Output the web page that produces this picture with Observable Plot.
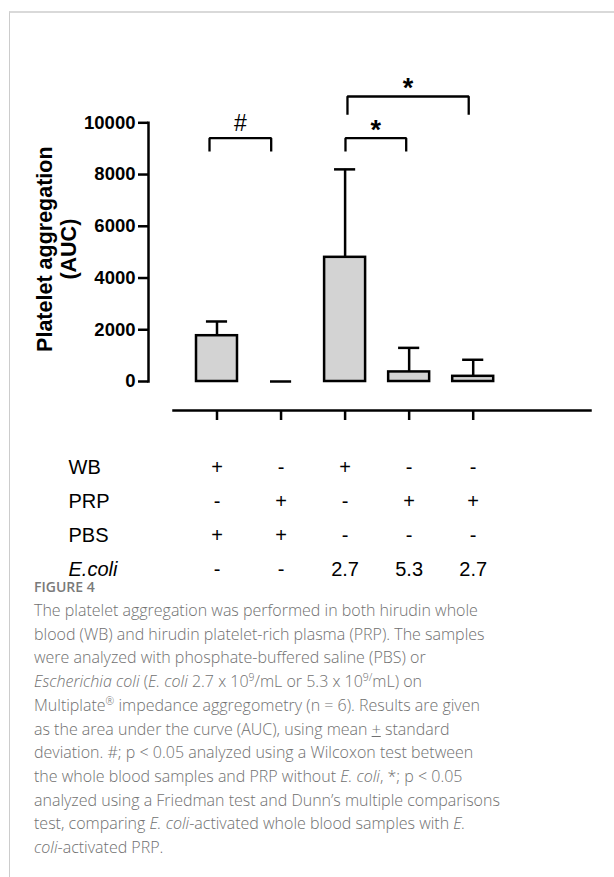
<!DOCTYPE html>
<html>
<head>
<meta charset="utf-8">
<script src="https://cdn.jsdelivr.net/npm/d3@7"></script>
<script src="https://cdn.jsdelivr.net/npm/@observablehq/plot@0.6"></script>
<style>
  html, body { margin: 0; padding: 0; background: #fff; }
  body { width: 614px; height: 877px; position: relative; overflow: hidden; }
  #frame { position: absolute; left: 9px; top: 11px; right: 0; bottom: 0;
           border-top: 2px solid #d9d9d9; border-left: 1.5px solid #cccccc; }
  #chart { position: absolute; left: 0; top: 0; }
  #table { position: absolute; left: 0; top: 440px; }
  #cap { position: absolute; left: 34px; top: 577px; width: 575px;
         font-family: "Open Sans", sans-serif; color: #707070; }
  #cap .fig { font-size: 14px; font-weight: 600; color: #7a7a7a; line-height: 20px; height: 20px; }
  #cap .body { font-size: 16px; font-weight: 300; line-height: 23.7px; white-space: nowrap; margin-top: 2px; }
  #cap sup { font-size: 0.65em; line-height: 0; vertical-align: 0.6em; }
</style>
</head>
<body>
<div id="frame"></div>
<div id="chart"></div>
<div id="table"></div>
<div id="cap">
  <div class="fig">FIGURE 4</div>
  <div class="body">The platelet aggregation was performed in both hirudin whole<br>blood (WB) and hirudin platelet-rich plasma (PRP). The samples<br>were analyzed with phosphate-buffered saline (PBS) or<br><i>Escherichia coli</i> (<i>E. coli</i> 2.7 x 10<sup>9</sup>/mL or 5.3 x 10<sup>9/</sup>mL) on<br>Multiplate<sup>®</sup> impedance aggregometry (n = 6). Results are given<br>as the area under the curve (AUC), using mean <u>+</u> standard<br>deviation. #; p &lt; 0.05 analyzed using a Wilcoxon test between<br>the whole blood samples and PRP without <i>E. coli</i>, *; p &lt; 0.05<br>analyzed using a Friedman test and Dunn’s multiple comparisons<br>test, comparing <i>E. coli</i>-activated whole blood samples with <i>E.</i><br><i>coli</i>-activated PRP.</div>
</div>
<script>
// ---- data ----
const groups = ["WB PBS", "PRP PBS", "WB E.coli 2.7", "PRP E.coli 5.3", "PRP E.coli 2.7"];
const positions = [1, 2, 3, 4, 5];
const means = [1770, 0, 4800, 370, 200];
const sds = [550, 0, 3400, 930, 640];

const yTicks = [0, 2000, 4000, 6000, 8000, 10000];

const bracketLabels = ["#", "*", "*"];
const bracketFrom = [0.883, 3.006, 3.037];
const bracketTo = [1.846, 3.954, 4.93];
const bracketTop = [9405, 9405, 11017];
const bracketLeg = [8891, 8891, 10309];

const tableRows = ["WB", "PRP", "PBS", "E.coli"];
const rowWB = ["+", "-", "+", "-", "-"];
const rowPRP = ["-", "+", "-", "+", "+"];
const rowPBS = ["+", "+", "-", "-", "-"];
const rowEcoli = ["-", "-", "2.7", "5.3", "2.7"];

// ---- derived tables ----
const bars = groups.map((g, i) => ({group: g, pos: positions[i], mean: means[i], sd: sds[i]}));
const brackets = bracketLabels.map((l, i) => ({
  id: i, label: l, from: bracketFrom[i], to: bracketTo[i], top: bracketTop[i], leg: bracketLeg[i]
}));
const bracketPts = brackets.flatMap(b => [
  {id: b.id, x: b.from, y: b.leg},
  {id: b.id, x: b.from, y: b.top},
  {id: b.id, x: b.to, y: b.top},
  {id: b.id, x: b.to, y: b.leg}
]);
const rowValues = [rowWB, rowPRP, rowPBS, rowEcoli];
const cells = tableRows.flatMap((r, j) => rowValues[j].map((v, i) => ({row: r, pos: positions[i], text: v})));

const FONT = "'Liberation Sans', Arial, Helvetica, sans-serif";
const HALF_BAR = 0.32;
const HALF_CAP = 0.165;
const xScale = {domain: [1, 5], range: [216.5, 472.7]};

const chart = Plot.plot({
  width: 614,
  height: 430,
  marginLeft: 148,
  marginRight: 24,
  marginTop: 122.3,
  marginBottom: 49,
  style: {fontFamily: FONT, color: "black", background: "transparent", overflow: "visible"},
  x: xScale,
  y: {domain: [0, 10000]},
  marks: [
    Plot.frame({anchor: "left", strokeWidth: 2.5}),
    Plot.axisY({ticks: yTicks, tickSize: 10, tickPadding: 3, tickFormat: d => String(d),
                strokeWidth: 2.5, fontSize: 18.5, fontWeight: "bold", label: null}),
    Plot.frame({anchor: "bottom", insetLeft: 25, dy: 29, strokeWidth: 2.5}),
    Plot.axisX({ticks: positions, tickSize: 10, tickFormat: () => "", dy: 29, strokeWidth: 2.5, label: null}),
    Plot.text(["Platelet aggregation\n(AUC)"], {
      frameAnchor: "left", textAnchor: "middle", lineAnchor: "middle", rotate: -90,
      dx: -92.5, dy: -3, lineHeight: 1.15,
      fontSize: 21.5, fontWeight: "bold", fill: "black"
    }),
    Plot.ruleX(bars, {x: "pos", y1: "mean", y2: d => d.mean + d.sd, stroke: "black", strokeWidth: 2.5}),
    Plot.ruleY(bars, {y: d => d.mean + d.sd, x1: d => d.pos - HALF_CAP, x2: d => d.pos + HALF_CAP,
                      stroke: "black", strokeWidth: 2.5}),
    Plot.rectY(bars, {filter: d => d.mean > 0, x1: d => d.pos - HALF_BAR, x2: d => d.pos + HALF_BAR,
                      y1: 0, y2: "mean", fill: "#d3d3d3", stroke: "black", strokeWidth: 2.5}),
    Plot.line(bracketPts, {x: "x", y: "y", z: "id", stroke: "black", strokeWidth: 2.3,
                           strokeLinejoin: "miter", strokeLinecap: "butt"}),
    Plot.text(brackets, {filter: d => d.label === "#", x: d => (d.from + d.to) / 2, y: "top", text: "label",
                         fontSize: 23, dy: -14.5, fill: "black"}),
    Plot.text(brackets, {filter: d => d.label === "*", x: d => (d.from + d.to) / 2, y: "top", text: "label",
                         fontSize: 27, fontWeight: "bold", dy: -8, fill: "black"})
  ]
});
document.getElementById("chart").appendChild(chart);

const table = Plot.plot({
  width: 614,
  height: 150,
  marginLeft: 68,
  marginRight: 24,
  marginTop: 27,
  marginBottom: 21,
  style: {fontFamily: FONT, color: "black", background: "transparent", overflow: "visible"},
  x: {...xScale, axis: null},
  y: {type: "point", domain: tableRows, padding: 0, axis: null},
  marks: [
    Plot.text(tableRows, {filter: d => d !== "E.coli", y: d => d, text: d => d, frameAnchor: "left",
                          textAnchor: "start", fontSize: 20, fill: "black"}),
    Plot.text(tableRows, {filter: d => d === "E.coli", y: d => d, text: d => d, frameAnchor: "left",
                          textAnchor: "start", fontSize: 20, fontStyle: "italic", fill: "black"}),
    Plot.text(cells, {x: "pos", y: "row", text: "text", fontSize: 20, fill: "black"})
  ]
});
document.getElementById("table").appendChild(table);
</script>
</body>
</html>
